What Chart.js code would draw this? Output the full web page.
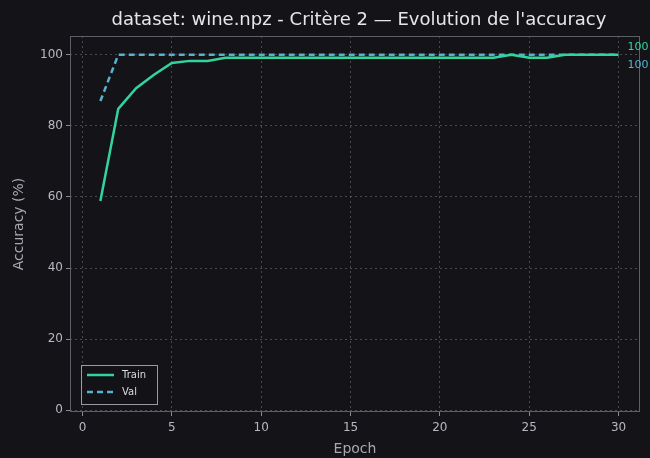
<!DOCTYPE html>
<html>
<head>
<meta charset="utf-8">
<script src="https://cdn.jsdelivr.net/npm/chart.js@4/dist/chart.umd.min.js"></script>
<style>
  html, body { margin: 0; padding: 0; background: #131318; }
  #wrap { width: 650px; height: 458px; }
</style>
</head>
<body>
<div id="wrap"><canvas id="c" width="650" height="458"></canvas></div>
<script>
// Accuracy per epoch for the wine.npz run (criterion 2)
const epochs = Array.from({length: 30}, (_, i) => i + 1);
const trainAcc = [58.9, 84.8, 90.6, 94.4, 97.7, 98.3, 98.3, 99.2, 99.2, 99.2,
                  99.2, 99.2, 99.2, 99.2, 99.2, 99.2, 99.2, 99.2, 99.2, 99.2,
                  99.2, 99.2, 99.2, 100, 99.2, 99.2, 100, 100, 100, 100];
const valAcc   = [87.0, 100, 100, 100, 100, 100, 100, 100, 100, 100,
                  100, 100, 100, 100, 100, 100, 100, 100, 100, 100,
                  100, 100, 100, 100, 100, 100, 100, 100, 100, 100];
const xTicks = [0, 5, 10, 15, 20, 25, 30];
const yTicks = [0, 20, 40, 60, 80, 100];

const titleText = "dataset: wine.npz - Critère 2 \u2014 Evolution de l'accuracy";
const FONT = "'DejaVu Sans', sans-serif";
const trainColor = '#33d49c';
const valColor = '#55b3cf';
const gridColor = 'rgba(200,200,210,0.3)';
const tickColor = '#b8b8c0';

const overlay = {
  id: 'overlay',
  beforeDraw(chart) {
    const {ctx, width, height} = chart;
    ctx.save();
    ctx.fillStyle = '#131318';
    ctx.fillRect(0, 0, width, height);
    ctx.restore();
  },
  afterDraw(chart) {
    const {ctx, chartArea: a, scales: {x, y}} = chart;
    ctx.save();
    // frame around the plot
    ctx.strokeStyle = '#5e5e66';
    ctx.lineWidth = 1;
    ctx.strokeRect(a.left + 0.5, a.top + 0.5, a.right - a.left - 1, a.bottom - a.top - 1);

    // title
    ctx.fillStyle = '#e6e6ea';
    ctx.font = '18px ' + FONT;
    ctx.textAlign = 'center';
    ctx.textBaseline = 'middle';
    ctx.fillText(titleText, (a.left + a.right) / 2 + 4, 20);

    // last-value labels
    const lastX = epochs[epochs.length - 1];
    const tv = trainAcc[trainAcc.length - 1];
    const vv = valAcc[valAcc.length - 1];
    ctx.font = '11px ' + FONT;
    ctx.textAlign = 'left';
    ctx.fillStyle = trainColor;
    ctx.fillText(tv.toFixed(0), x.getPixelForValue(lastX) + 9, y.getPixelForValue(tv) - 8);
    ctx.fillStyle = valColor;
    ctx.fillText(vv.toFixed(0), x.getPixelForValue(lastX) + 9, y.getPixelForValue(vv) + 10);

    // legend
    const lx = a.left + 11, ly = 365, lw = 76, lh = 39;
    ctx.fillStyle = 'rgba(19,19,24,0.85)';
    ctx.fillRect(lx, ly, lw, lh);
    ctx.strokeStyle = '#9a9aa2';
    ctx.lineWidth = 1;
    ctx.strokeRect(lx + 0.5, ly + 0.5, lw, lh);
    const items = chart.data.datasets;
    items.forEach((ds, i) => {
      const yy = ly + 10 + i * 17;
      ctx.strokeStyle = ds.borderColor;
      ctx.lineWidth = 2.5;
      ctx.setLineDash(ds.borderDash || []);
      ctx.beginPath();
      ctx.moveTo(lx + 6, yy);
      ctx.lineTo(lx + 33, yy);
      ctx.stroke();
      ctx.setLineDash([]);
      ctx.fillStyle = '#dcdce0';
      ctx.font = '10px ' + FONT;
      ctx.textBaseline = 'middle';
      ctx.fillText(ds.label, lx + 41, yy);
    });
    ctx.restore();
  }
};

new Chart(document.getElementById('c'), {
  type: 'line',
  data: {
    labels: epochs,
    datasets: [
      { label: 'Train', data: trainAcc.map((v, i) => ({x: epochs[i], y: v})),
        borderColor: trainColor, borderWidth: 2.5, pointRadius: 0, tension: 0, fill: false },
      { label: 'Val', data: valAcc.map((v, i) => ({x: epochs[i], y: v})),
        borderColor: valColor, borderWidth: 2.5, borderDash: [6, 4], pointRadius: 0, tension: 0, fill: false }
    ]
  },
  options: {
    responsive: false,
    animation: false,
    layout: { padding: { top: 36, right: 10, left: 0, bottom: 0 } },
    plugins: { legend: { display: false }, title: { display: false }, tooltip: { enabled: false } },
    scales: {
      x: {
        type: 'linear',
        min: -0.7, max: 31.2,
        afterBuildTicks: s => { s.ticks = xTicks.map(v => ({value: v})); },
        afterFit: s => { s.height = 46; },
        grid: { color: gridColor, lineWidth: 1, drawTicks: true, tickLength: 4, tickColor: '#8a8a92', tickBorderDash: [] },
        border: { display: false, dash: [2, 3] },
        ticks: { color: tickColor, font: { family: FONT, size: 12 }, padding: 5, maxRotation: 0 },
        title: { display: true, text: 'Epoch', color: '#a8a8b0', font: { family: FONT, size: 14 }, padding: { top: 0, bottom: 0 } }
      },
      y: {
        min: -0.5, max: 105.3,
        afterBuildTicks: s => { s.ticks = yTicks.map(v => ({value: v})); },
        afterFit: s => { s.width = 70; },
        grid: { color: gridColor, lineWidth: 1, drawTicks: true, tickLength: 4, tickColor: '#8a8a92', tickBorderDash: [] },
        border: { display: false, dash: [2, 3] },
        ticks: { color: tickColor, font: { family: FONT, size: 12 }, padding: 3 },
        title: { display: true, text: 'Accuracy (%)', color: '#a8a8b0', font: { family: FONT, size: 14 }, padding: { top: 11, bottom: 0 } }
      }
    }
  },
  plugins: [overlay]
});
</script>
</body>
</html>
